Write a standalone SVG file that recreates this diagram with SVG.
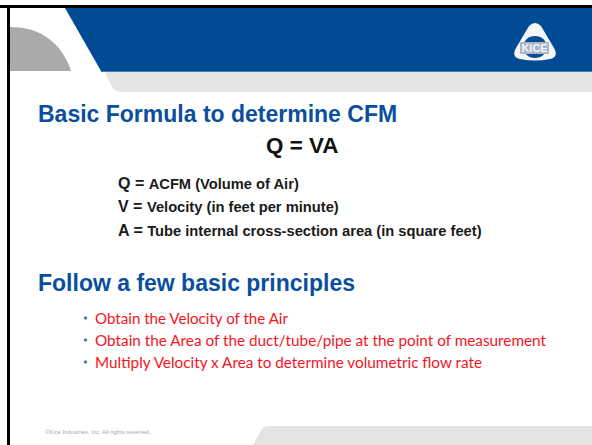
<svg xmlns="http://www.w3.org/2000/svg" width="592" height="445" viewBox="0 0 592 445">
<style>
.h{font-family:"Liberation Sans",Arial,sans-serif;font-weight:700;font-size:23px;fill:#0b4f9c}
.b{font-family:"Liberation Sans",Arial,sans-serif;font-weight:700;font-size:14.7px;fill:#1a1a1a}
.k{font-size:16px}
.r{font-family:Lato,"Open Sans",sans-serif;font-size:14.5px;fill:#f5141e}
.d{fill:#4f81bd}
</style>
<rect width="592" height="445" fill="#fff"/>
<g id="background">
<path d="M10 27C42 27 62 44 71 71H10Z" fill="#aaaaaa"/>
<path d="M105 72H592V92H122Q115 92 112 87Z" fill="#e4e4e4"/>
<path d="M65 8H592V71H101Z" fill="#004b93"/>
<rect x="101" y="71" width="491" height="1" fill="#4a7fb5"/>
<path d="M253 445L262 429Q264 426 268 426H592V445Z" fill="#e4e4e4"/>
<rect x="0" y="5" width="592" height="3" fill="#000"/>
<rect x="7" y="5" width="3" height="440" fill="#000"/>
</g>
<g id="logo">
<path d="M529 26Q535 20 541 26L554 48Q559 57 550 59Q535 62 520 59Q511 57 516 48Z" fill="#f4f6f8"/>
<ellipse cx="535" cy="47" rx="12" ry="11" fill="#0a4d94"/>
<rect x="520" y="42" width="29" height="12" rx="1" fill="#a8b6c8"/>
<text x="534.5" y="52" text-anchor="middle" font-family="Liberation Sans,sans-serif" font-weight="700" font-size="10" fill="#f2f5f8" textLength="26" lengthAdjust="spacingAndGlyphs">KICE</text>
</g>
<g id="text">
<text class="h" x="38" y="122">Basic Formula to determine CFM</text>
<text x="266" y="153" font-family="Liberation Sans,sans-serif" font-weight="700" font-size="22.4" fill="#111">Q = VA</text>
<text class="b" x="118" y="189"><tspan class="k">Q = </tspan>ACFM (Volume of Air)</text>
<text class="b" x="118" y="212"><tspan class="k">V = </tspan>Velocity (in feet per minute)</text>
<text class="b" x="118" y="236"><tspan class="k">A = </tspan>Tube internal cross-section area (in square feet)</text>
<text class="h" x="38" y="291">Follow a few basic principles</text>
<circle class="d" cx="85.5" cy="318" r="1.8"/>
<circle class="d" cx="85.5" cy="340" r="1.8"/>
<circle class="d" cx="85.5" cy="362" r="1.8"/>
<text class="r" x="95" y="324" textLength="193" lengthAdjust="spacingAndGlyphs">Obtain the Velocity of the Air</text>
<text class="r" x="95" y="346" textLength="451" lengthAdjust="spacingAndGlyphs">Obtain the Area of the duct/tube/pipe at the point of measurement</text>
<text class="r" x="95" y="368" textLength="387" lengthAdjust="spacingAndGlyphs">Multiply Velocity x Area to determine volumetric flow rate</text>
<text x="45" y="434" font-family="Liberation Sans,sans-serif" font-size="5.9" fill="#aaa">©Kice Industries, Inc. All rights reserved.</text>
</g>
</svg>
